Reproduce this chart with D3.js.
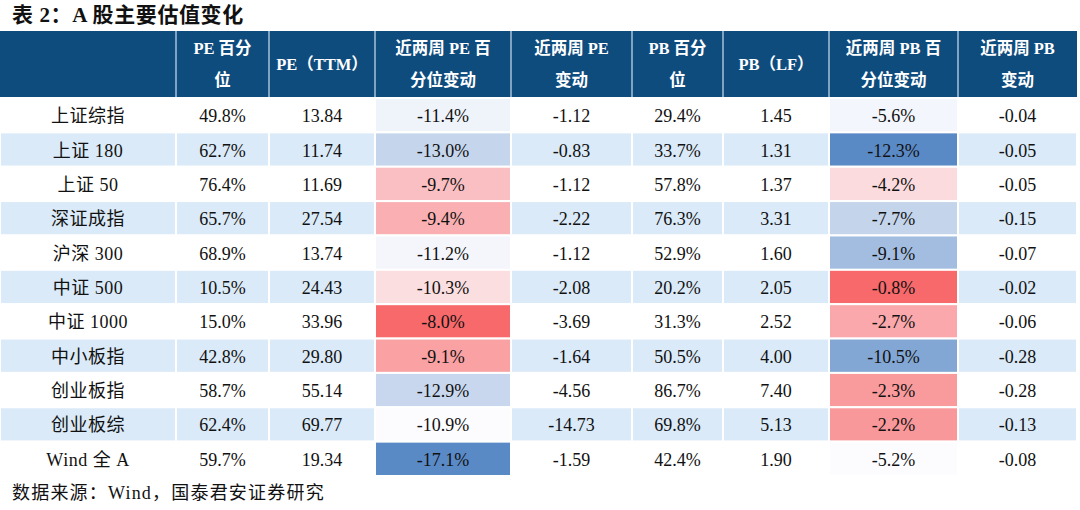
<!DOCTYPE html>
<html><head><meta charset="utf-8">
<script src="https://cdn.jsdelivr.net/npm/d3@7"></script>
<style>
html,body{margin:0;padding:0;background:#fff;}
svg{display:block;}
</style></head>
<body>
<svg id="chart" width="1080" height="510"></svg>
<script>
// ---- data ----
const indices   = ["上证综指","上证 180","上证 50","深证成指","沪深 300","中证 500","中证 1000","中小板指","创业板指","创业板综","Wind 全 A"];
const pePct     = ["49.8%","62.7%","76.4%","65.7%","68.9%","10.5%","15.0%","42.8%","58.7%","62.4%","59.7%"];
const peTTM     = ["13.84","11.74","11.69","27.54","13.74","24.43","33.96","29.80","55.14","69.77","19.34"];
const pePctChg  = [-11.4,-13.0,-9.7,-9.4,-11.2,-10.3,-8.0,-9.1,-12.9,-10.9,-17.1];
const peChg     = ["-1.12","-0.83","-1.12","-2.22","-1.12","-2.08","-3.69","-1.64","-4.56","-14.73","-1.59"];
const pbPct     = ["29.4%","33.7%","57.8%","76.3%","52.9%","20.2%","31.3%","50.5%","86.7%","69.8%","42.4%"];
const pbLF      = ["1.45","1.31","1.37","3.31","1.60","2.05","2.52","4.00","7.40","5.13","1.90"];
const pbPctChg  = [-5.6,-12.3,-4.2,-7.7,-9.1,-0.8,-2.7,-10.5,-2.3,-2.2,-5.2];
const pbChg     = ["-0.04","-0.05","-0.05","-0.15","-0.07","-0.02","-0.06","-0.28","-0.28","-0.13","-0.08"];
const headers   = [[""],["PE 百分","位"],["PE（TTM）"],["近两周 PE 百","分位变动"],["近两周 PE","变动"],["PB 百分","位"],["PB（LF）"],["近两周 PB 百","分位变动"],["近两周 PB","变动"]];
const titleText = "表 2：A 股主要估值变化";
const sourceText = "数据来源：Wind，国泰君安证券研究";

// ---- layout ----
const colEdges = [0,176,269,375,511,632,723,829,958,1077];
const headerTop = 31, headerBottom = 97, tableBottom = 476;
const svg = d3.select("#chart");
const fontSerif = "'Liberation Serif','Times New Roman','Noto Sans CJK SC',serif";
const fontCJK = "'Liberation Serif','Noto Sans CJK SC',serif";

const colKeys = d3.range(9);
const xLeft = d3.scaleOrdinal().domain(colKeys).range(colEdges.slice(0,9));
const xRight = d3.scaleOrdinal().domain(colKeys).range(colEdges.slice(1));
const y = d3.scaleBand().domain(indices).range([headerBottom+1, tableBottom]).padding(0);

function fmtPct(v){ return v.toFixed(1) + "%"; }
function heatScale(vals){
  const sorted = vals.slice().sort(d3.ascending);
  return d3.scaleLinear()
    .domain([d3.min(vals), d3.quantileSorted(sorted,0.5), d3.max(vals)])
    .range(["#5A8AC6","#FCFCFF","#F8696B"])
    .interpolate(d3.interpolateRgb);
}
const cPE = heatScale(pePctChg), cPB = heatScale(pbPctChg);

const columns = [
  {vals: indices, font: fontCJK},
  {vals: pePct}, {vals: peTTM},
  {vals: pePctChg.map(fmtPct), heat: pePctChg.map(cPE)},
  {vals: peChg}, {vals: pbPct}, {vals: pbLF},
  {vals: pbPctChg.map(fmtPct), heat: pbPctChg.map(cPB)},
  {vals: pbChg}
];

// title
svg.append("text").attr("x",12).attr("y",15).attr("dominant-baseline","central")
  .style("font-family",fontSerif).style("font-size","21px").style("font-weight","bold")
  .style("letter-spacing","0.6px").attr("fill","#111").text(titleText);

// header
svg.append("rect").attr("x",colEdges[0]).attr("y",headerTop)
  .attr("width",colEdges[9]-colEdges[0]).attr("height",headerBottom-headerTop).attr("fill","#0F4C7E");
colKeys.slice(1).forEach(k=>{
  svg.append("line").attr("x1",xLeft(k)).attr("x2",xLeft(k)).attr("y1",headerTop).attr("y2",headerBottom)
    .attr("stroke","#A9C1D9").attr("stroke-width",1.5);
});
headers.forEach((lines,k)=>{
  const cx = (xLeft(k)+xRight(k))/2;
  const ys = lines.length===2 ? [48,80] : [64];
  lines.forEach((t,i)=>{
    svg.append("text").attr("x",cx).attr("y",ys[i]).attr("text-anchor","middle").attr("dominant-baseline","central")
      .style("font-family",fontSerif).style("font-size","16.5px").style("font-weight","bold")
      .attr("fill","#fff").text(t);
  });
});

// rows
const rowG = svg.append("g");
indices.forEach((name,r)=>{
  const y0 = y(name), h = y.bandwidth();
  const rowFill = r%2===1 ? "#DAEAF8" : "#FFFFFF";
  columns.forEach((col,k)=>{
    const fill = col.heat ? col.heat[r] : rowFill;
    rowG.append("rect").attr("x",xLeft(k)).attr("y",y0).attr("width",xRight(k)-xLeft(k)).attr("height",h)
      .attr("fill",fill).attr("stroke","#fff").attr("stroke-width",2);
    rowG.append("text").attr("x",(xLeft(k)+xRight(k))/2).attr("y",y0+h/2+1)
      .attr("text-anchor","middle").attr("dominant-baseline","central")
      .style("font-family",col.font||fontSerif).style("font-size","18px")
      .style("letter-spacing", k===0 ? "0.5px" : "0px")
      .attr("fill","#111").text(col.vals[r]);
  });
});

// source
svg.append("text").attr("x",12).attr("y",493).attr("dominant-baseline","central")
  .style("font-family",fontSerif).style("font-size","18px").style("letter-spacing","1.2px")
  .attr("fill","#111").text(sourceText);
</script>
</body></html>
